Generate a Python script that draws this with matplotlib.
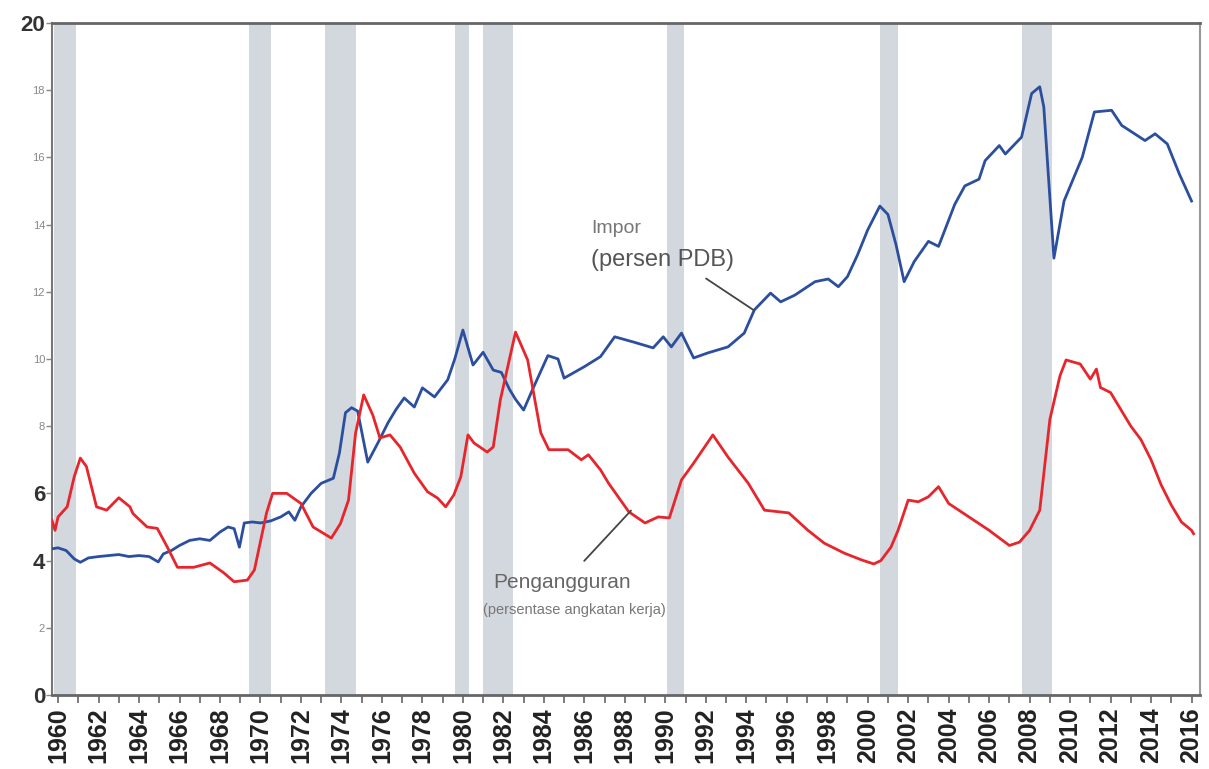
import numpy as np
import matplotlib
matplotlib.use('Agg')
import matplotlib.pyplot as plt

plt.rcParams['font.family'] = ['Liberation Sans', 'DejaVu Sans']

# --- data ---
impor_year = [1959.7, 1960.0, 1960.4, 1960.8, 1961.1, 1961.5, 1962.0, 1962.5, 1963.0, 1963.5,
              1964.0, 1964.5, 1964.95, 1965.2, 1965.6, 1966.0, 1966.5, 1967.0, 1967.5, 1968.0,
              1968.4, 1968.7, 1968.96, 1969.2, 1969.6, 1970.0, 1970.5, 1971.0, 1971.4, 1971.7,
              1972.0, 1972.5, 1973.0, 1973.6, 1973.9, 1974.2, 1974.5, 1974.8, 1975.3, 1975.8,
              1976.3, 1976.7, 1977.1, 1977.6, 1978.0, 1978.6, 1979.25, 1979.6, 1980.0, 1980.5,
              1981.0, 1981.5, 1981.9, 1982.3, 1982.6, 1983.0, 1983.5, 1984.2, 1984.7, 1985.0,
              1985.5, 1986.0, 1986.8, 1987.5, 1988.45, 1989.4, 1989.9, 1990.3, 1990.8, 1991.4,
              1992.1, 1993.1, 1993.9, 1994.4, 1995.2, 1995.7, 1996.4, 1997.4, 1998.05, 1998.55,
              1999.0, 1999.5, 2000.0, 2000.6, 2001.0, 2001.4, 2001.8, 2002.3, 2003.0, 2003.5,
              2004.3, 2004.8, 2005.5, 2005.8, 2006.5, 2006.8, 2007.6, 2008.1, 2008.5, 2008.7,
              2009.2, 2009.7, 2010.6, 2011.2, 2012.05, 2012.55, 2013.7, 2014.2, 2014.8, 2015.4,
              2016.0]
impor_val = [4.35, 4.38, 4.3, 4.05, 3.95, 4.08, 4.12, 4.15, 4.18, 4.12,
             4.15, 4.12, 3.96, 4.2, 4.3, 4.45, 4.6, 4.65, 4.6, 4.85,
             5.0, 4.95, 4.4, 5.12, 5.15, 5.12, 5.18, 5.3, 5.45, 5.2,
             5.6, 6.0, 6.3, 6.45, 7.2, 8.4, 8.55, 8.45, 6.93, 7.5,
             8.1, 8.5, 8.84, 8.57, 9.14, 8.87, 9.38, 10.0, 10.86, 9.82,
             10.2, 9.67, 9.6, 9.1, 8.8, 8.48, 9.17, 10.1, 10.0, 9.43,
             9.6, 9.77, 10.07, 10.66, 10.5, 10.33, 10.66, 10.36, 10.77, 10.03,
             10.18, 10.36, 10.77, 11.46, 11.96, 11.7, 11.9, 12.3, 12.38, 12.15,
             12.45, 13.1, 13.84, 14.55, 14.3, 13.4, 12.3, 12.9, 13.5, 13.35,
             14.6, 15.15, 15.35, 15.9, 16.35, 16.1, 16.6, 17.9, 18.1, 17.5,
             13.0, 14.7, 16.0, 17.35, 17.4, 16.95, 16.5, 16.7, 16.4, 15.5,
             14.7]

pengangguran_year = [1959.7, 1959.85, 1960.0, 1960.45, 1960.8, 1961.1, 1961.4, 1961.9, 1962.4, 1963.0,
                     1963.55, 1963.7, 1964.4, 1964.9, 1965.4, 1965.9, 1966.7, 1967.5, 1968.2, 1968.7,
                     1969.35, 1969.7, 1970.3, 1970.6, 1971.3, 1972.0, 1972.6, 1973.5, 1973.95, 1974.35,
                     1974.7, 1975.1, 1975.55, 1975.9, 1976.4, 1976.9, 1977.6, 1978.25, 1978.75, 1979.15,
                     1979.55, 1979.9, 1980.25, 1980.55, 1981.2, 1981.5, 1981.85, 1982.6, 1983.2, 1983.85,
                     1984.25, 1985.2, 1985.85, 1986.2, 1986.8, 1987.2, 1988.2, 1989.0, 1989.65, 1990.2,
                     1990.8, 1991.4, 1992.35, 1993.1, 1994.1, 1994.9, 1996.1, 1997.05, 1997.85, 1998.85,
                     1999.7, 2000.3, 2000.65, 2001.15, 2001.5, 2002.0, 2002.5, 2003.0, 2003.5, 2004.0,
                     2005.0, 2006.0, 2007.0, 2007.5, 2008.0, 2008.5, 2009.0, 2009.5, 2009.8, 2010.5,
                     2011.0, 2011.3, 2011.5, 2012.0, 2012.5, 2013.0, 2013.5, 2014.0, 2014.5, 2015.0,
                     2015.5, 2016.0, 2016.1]
pengangguran_val = [5.2, 4.9, 5.3, 5.6, 6.5, 7.05, 6.8, 5.6, 5.5, 5.87,
                    5.6, 5.4, 5.0, 4.96, 4.4, 3.8, 3.8, 3.93, 3.63, 3.37,
                    3.42, 3.72, 5.42, 6.0, 6.0, 5.7, 5.0, 4.67, 5.1, 5.8,
                    7.8, 8.93, 8.33, 7.65, 7.74, 7.38, 6.6, 6.05, 5.86, 5.6,
                    5.95, 6.5, 7.74, 7.5, 7.23, 7.38, 8.78, 10.8, 9.97, 7.8,
                    7.3, 7.3, 7.0, 7.15, 6.7, 6.3, 5.45, 5.12, 5.3, 5.27,
                    6.4, 6.9, 7.74, 7.08, 6.3, 5.5, 5.42, 4.9, 4.52, 4.22,
                    4.02, 3.9, 4.0, 4.4, 4.9, 5.8, 5.75, 5.9, 6.2, 5.7,
                    5.3, 4.9, 4.45, 4.55, 4.9, 5.5, 8.2, 9.5, 9.97, 9.85,
                    9.4, 9.7, 9.15, 9.0, 8.5, 8.0, 7.6, 7.0, 6.25, 5.65,
                    5.15, 4.9, 4.8]

resesi_mulai = [1959.8, 1969.45, 1973.2, 1979.6, 1981.0, 1990.1, 2000.6, 2007.6]
resesi_akhir = [1960.9, 1970.5, 1974.7, 1980.3, 1982.5, 1990.9, 2001.5, 2009.1]

y_ticks = [0, 2, 4, 6, 8, 10, 12, 14, 16, 18, 20]
x_ticks = list(range(1960, 2017, 2))

fig = plt.figure(figsize=(12.09, 7.69), dpi=100)
ax = fig.add_axes([0.043, 0.0962, 0.9496, 0.874])

for a, b in zip(resesi_mulai, resesi_akhir):
    ax.axvspan(a, b, color='#d3d7de', lw=0, zorder=0)

ax.plot(impor_year, impor_val, color='#2b4f9e', lw=2.0, zorder=3)
ax.plot(pengangguran_year, pengangguran_val, color='#e6262c', lw=2.0, zorder=3)

ax.set_xlim(1959.7, 2016.42)
ax.set_ylim(0, 20)

# sumbu y: ukuran label campuran seperti aslinya
ax.set_yticks(y_ticks)
ax.set_yticklabels([str(v) for v in y_ticks])
for lbl, v in zip(ax.get_yticklabels(), y_ticks):
    if v in (0, 4, 6, 20):
        lbl.set_fontsize(16)
        lbl.set_fontweight('bold')
        lbl.set_color('#333333')
    else:
        lbl.set_fontsize(8)
        lbl.set_color('#888888')
ax.tick_params(axis='y', direction='out', length=4, width=1, color='#888888', pad=1)

ax.set_xticks(x_ticks)
ax.set_xticks(range(1960, 2017), minor=True)
ax.set_xticklabels([str(v) for v in x_ticks], rotation=90, fontsize=18,
                   fontweight='bold', color='#222222')
ax.tick_params(axis='x', which='both', direction='out', length=6, width=1.2, color='#666666', pad=3)

for side in ['top', 'bottom']:
    ax.spines[side].set_color('#666666')
    ax.spines[side].set_linewidth(2)
ax.spines['left'].set_color('#777777')
ax.spines['left'].set_linewidth(1.5)
ax.spines['right'].set_color('#999999')
ax.spines['right'].set_linewidth(1.5)

# anotasi
ax.text(1986.33, 13.87, 'Impor', fontsize=14, color='#777777', va='center', ha='left')
ax.text(1986.33, 12.95, '(persen PDB)', fontsize=17, color='#555555', va='center', ha='left')
ax.annotate('', xy=(1994.5, 11.4), xytext=(1991.9, 12.44),
            arrowprops=dict(arrowstyle='-', color='#444444', lw=1.3))

ax.text(1984.9, 3.36, 'Pengangguran', fontsize=15, color='#666666', va='center', ha='center')
ax.text(1985.5, 2.53, '(persentase angkatan kerja)', fontsize=10.5, color='#777777',
        va='center', ha='center')
ax.annotate('', xy=(1988.4, 5.55), xytext=(1985.9, 3.93),
            arrowprops=dict(arrowstyle='-', color='#444444', lw=1.3))

fig.savefig('out.png', dpi=100)
